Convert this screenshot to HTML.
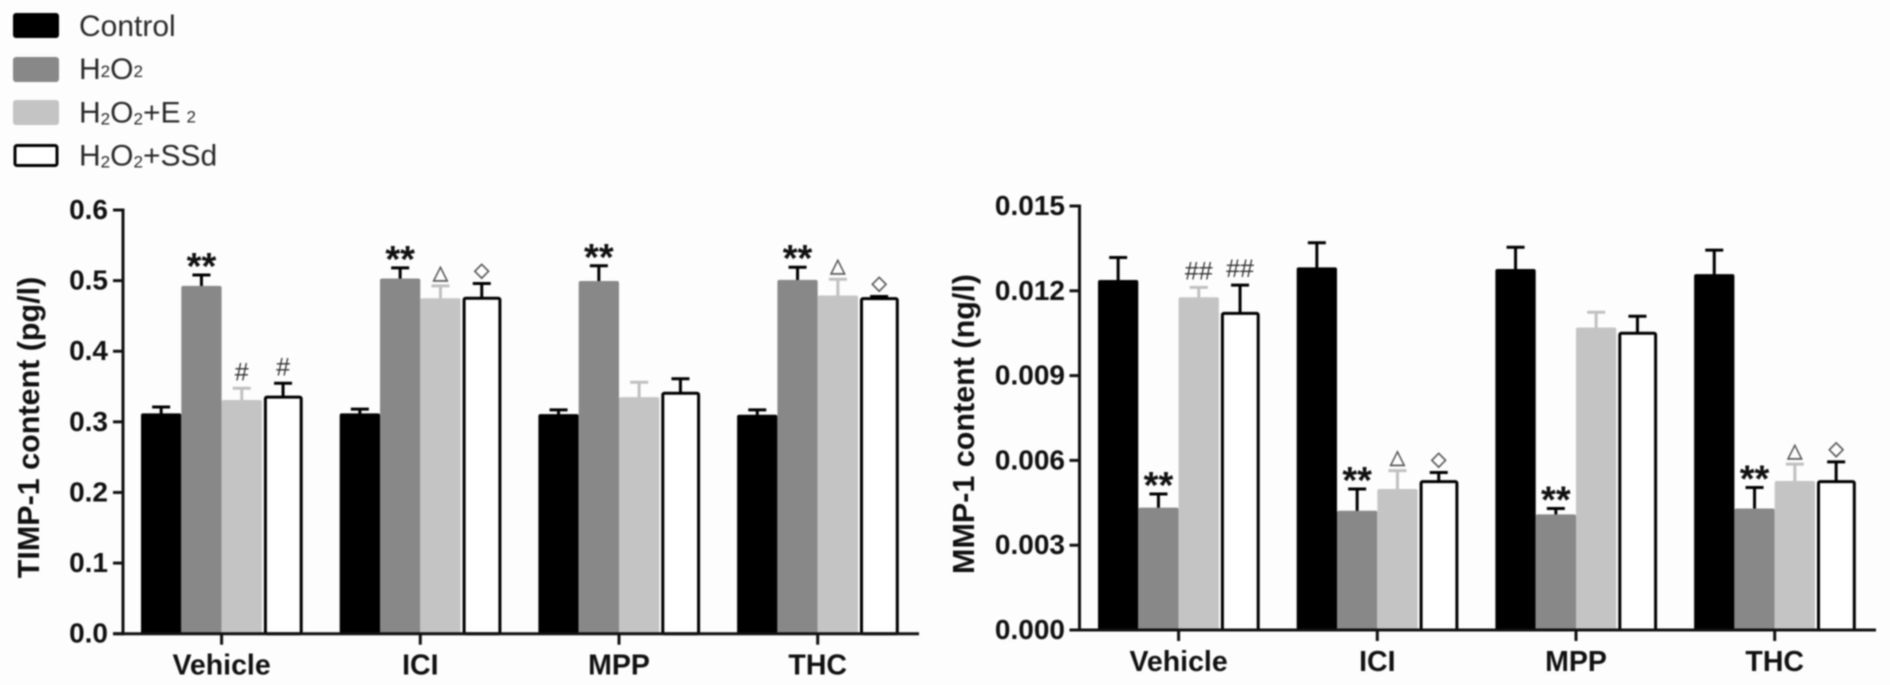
<!DOCTYPE html>
<html lang="en">
<head>
<meta charset="utf-8">
<title>TIMP-1 and MMP-1 content</title>
<style>
html,body{margin:0;padding:0;background:#fdfdfd;width:1890px;height:685px;overflow:hidden}
svg{display:block;filter:blur(0.8px)}
text{font-family:"Liberation Sans",Arial,sans-serif}
.tick{font-weight:700;font-size:28px;fill:#111}
.cat{font-weight:700;font-size:28.5px;fill:#111}
.title{font-weight:700;font-size:30.5px;fill:#111}
.leg{font-size:30px;fill:#2a2a2a}
</style>
</head>
<body>
<svg id="figure" width="1890" height="685" viewBox="0 0 1890 685" xmlns="http://www.w3.org/2000/svg">
  <g>
    <rect x="13" y="13" width="46" height="25" rx="3" fill="#000"/>
    <text class="leg" x="79" y="36">Control</text>
    <rect x="13" y="57" width="46" height="25" rx="3" fill="#888"/>
    <text class="leg" x="79" y="79">H<tspan font-size="17" dy="-2">2</tspan><tspan dy="2">O</tspan><tspan font-size="17" dy="-2">2</tspan></text>
    <rect x="13" y="100" width="46" height="25" rx="3" fill="#c4c4c4"/>
    <text class="leg" x="79" y="122.5">H<tspan font-size="17" dy="2">2</tspan><tspan dy="-2">O</tspan><tspan font-size="17" dy="2">2</tspan><tspan dy="-2">+E</tspan><tspan font-size="17" dx="6">2</tspan></text>
    <rect x="15" y="145.5" width="42" height="20" rx="2" fill="#fff" stroke="#000" stroke-width="3"/>
    <text class="leg" x="79" y="165.5">H<tspan font-size="17" dy="2">2</tspan><tspan dy="-2">O</tspan><tspan font-size="17" dy="2">2</tspan><tspan dy="-2">+SSd</tspan></text>
  </g>
</svg>
<script>
// Shared categories and series
const categories = ['Vehicle', 'ICI', 'MPP', 'THC'];
const seriesNames = ['control', 'h2o2', 'h2o2-e2', 'h2o2-ssd'];

// TIMP-1 values, one array per series, in category order
const timpControl = [0.312, 0.312, 0.311, 0.310];
const timpH2o2 = [0.4925, 0.503, 0.4995, 0.501];
const timpE2 = [0.331, 0.475, 0.335, 0.479];
const timpSsd = [0.335, 0.475, 0.3405, 0.4745];
// TIMP-1 upper error-bar ends
const timpControlErr = [0.321, 0.318, 0.317, 0.317];
const timpH2o2Err = [0.508, 0.518, 0.521, 0.519];
const timpE2Err = [0.3475, 0.4925, 0.356, 0.502];
const timpSsdErr = [0.3546, 0.496, 0.361, 0.4775];
const timpTicks = ['0.0', '0.1', '0.2', '0.3', '0.4', '0.5', '0.6'];
const timpMarks = [['', '**', '#', '#'], ['', '**', '△', '◇'], ['', '**', '', ''], ['', '**', '△', '◇']];

// MMP-1 values, one array per series, in category order
const mmpControl = [0.01238, 0.01283, 0.01277, 0.01259];
const mmpH2o2 = [0.00433, 0.00422, 0.00409, 0.0043];
const mmpE2 = [0.01177, 0.00499, 0.0107, 0.00527];
const mmpSsd = [0.0112, 0.00525, 0.0105, 0.00525];
// MMP-1 upper error-bar ends
const mmpControlErr = [0.01318, 0.0137, 0.01354, 0.01344];
const mmpH2o2Err = [0.00481, 0.00499, 0.0043, 0.00504];
const mmpE2Err = [0.01212, 0.00564, 0.01124, 0.00587];
const mmpSsdErr = [0.0122, 0.00557, 0.0111, 0.00595];
const mmpTicks = ['0.000', '0.003', '0.006', '0.009', '0.012', '0.015'];
const mmpMarks = [['', '**', '##', '##'], ['', '**', '△', '◇'], ['', '**', '', ''], ['', '**', '△', '◇']];

const SVGNS = 'http://www.w3.org/2000/svg';
const figure = document.getElementById('figure');
const fills = ['#000', '#888', '#c4c4c4', '#fff'];
const errColors = ['#000', '#000', '#c0c0c0', '#000'];

function make(parent, tag, attrs, content) {
  const el = document.createElementNS(SVGNS, tag);
  for (const k in attrs) el.setAttribute(k, attrs[k]);
  if (content !== undefined) el.textContent = content;
  parent.appendChild(el);
  return el;
}

function drawPanel(cfg) {
  const panel = make(figure, 'g', {});
  
  

  const yMax = parseFloat(cfg.ticks[cfg.ticks.length - 1]);
  const yScale = v => cfg.y0 - (v / yMax) * (cfg.y0 - cfg.yTop);
  const barW = 40.3;
  const step = 198.7;
  const xBar = (g, s) => cfg.x0 + g * step + s * barW;

  categories.forEach((cat, g) => {
    cfg.values.forEach((vals, s) => {
      const x = xBar(g, s);
      const cx = x + barW / 2 + (s === 3 ? 1 : 0);
      const top = yScale(vals[g]);
      const errTop = yScale(cfg.errs[s][g]);

      const stem = make(panel, 'line', {x1: cx, x2: cx, y1: top + 1, y2: errTop, stroke: errColors[s], 'stroke-width': 3});
      
      
      const cap = make(panel, 'line', {x1: cx - 9, x2: cx + 9, y1: errTop, y2: errTop, stroke: errColors[s], 'stroke-width': 3});
      
      

      let bar;
      if (s === 3) {
        bar = make(panel, 'rect', {x: x + 3.5, y: top, width: barW - 4.5, height: cfg.y0 - top, rx: 1.5, fill: fills[s], stroke: '#000', 'stroke-width': 3});
      } else {
        bar = make(panel, 'rect', {x: x, y: top, width: barW, height: cfg.y0 - top, rx: 2, fill: fills[s]});
      }
      
      

      const mark = cfg.marks[g][s];
      if (mark) {
        let t;
        if (mark === '**') {
          t = make(panel, 'text', {x: cx, y: errTop - 14 + 18, 'text-anchor': 'middle', 'font-size': 38, 'font-weight': 700, fill: '#111'}, mark);
        } else if (mark[0] === '#') {
          t = make(panel, 'text', {x: cx, y: errTop - 17 + 9, 'text-anchor': 'middle', 'font-size': 25, fill: '#333'}, mark);
        } else {
          t = make(panel, 'text', {x: cx, y: errTop - 14 + 7, 'text-anchor': 'middle', 'font-size': 20, fill: '#555', stroke: '#555', 'stroke-width': 0.5, style: 'font-family:"DejaVu Sans",sans-serif'}, mark);
        }
        
        
      }
    });
  });

  // Axes drawn on top of the bars
  const yAxis = make(panel, 'line', {x1: cfg.axisX, x2: cfg.axisX, y1: cfg.yTop - 1.5, y2: cfg.y0 + 1.5, stroke: '#111', 'stroke-width': 3});
  
  
  const xAxis = make(panel, 'line', {x1: cfg.axisX - 10, x2: cfg.xEnd, y1: cfg.y0, y2: cfg.y0, stroke: '#111', 'stroke-width': 3});
  
  

  cfg.ticks.forEach(label => {
    const y = yScale(parseFloat(label));
    const tick = make(panel, 'line', {x1: cfg.axisX - 10, x2: cfg.axisX, y1: y, y2: y, stroke: '#111', 'stroke-width': 3});
    
    
    const text = make(panel, 'text', {class: 'tick', x: cfg.labelRight, y: y + 9, 'text-anchor': 'end'}, label);
    
    
  });

  categories.forEach((cat, g) => {
    const cx = xBar(g, 2);
    const tick = make(panel, 'line', {x1: cx, x2: cx, y1: cfg.y0, y2: cfg.y0 + 11, stroke: '#111', 'stroke-width': 3});
    
    
    const text = make(panel, 'text', {class: 'cat', x: cx, y: cfg.y0 + 41, 'text-anchor': 'middle'}, cat);
    
    
  });

  const title = make(panel, 'text', {class: 'title', 'text-anchor': 'middle', transform: 'translate(' + cfg.titleX + ' ' + cfg.titleY + ') rotate(-90)'}, cfg.title);
  
  
}

drawPanel({
  name: 'timp-1', title: 'TIMP-1 content (pg/l)',
  values: [timpControl, timpH2o2, timpE2, timpSsd],
  errs: [timpControlErr, timpH2o2Err, timpE2Err, timpSsdErr],
  ticks: timpTicks, marks: timpMarks,
  x0: 141, y0: 633.7, yTop: 210, axisX: 123, xEnd: 919, labelRight: 108, titleX: 39, titleY: 427.5
});
drawPanel({
  name: 'mmp-1', title: 'MMP-1 content (ng/l)',
  values: [mmpControl, mmpH2o2, mmpE2, mmpSsd],
  errs: [mmpControlErr, mmpH2o2Err, mmpE2Err, mmpSsdErr],
  ticks: mmpTicks, marks: mmpMarks,
  x0: 1098, y0: 630, yTop: 206, axisX: 1079.5, xEnd: 1876, labelRight: 1065, titleX: 974, titleY: 424
});
</script>
</body>
</html>
